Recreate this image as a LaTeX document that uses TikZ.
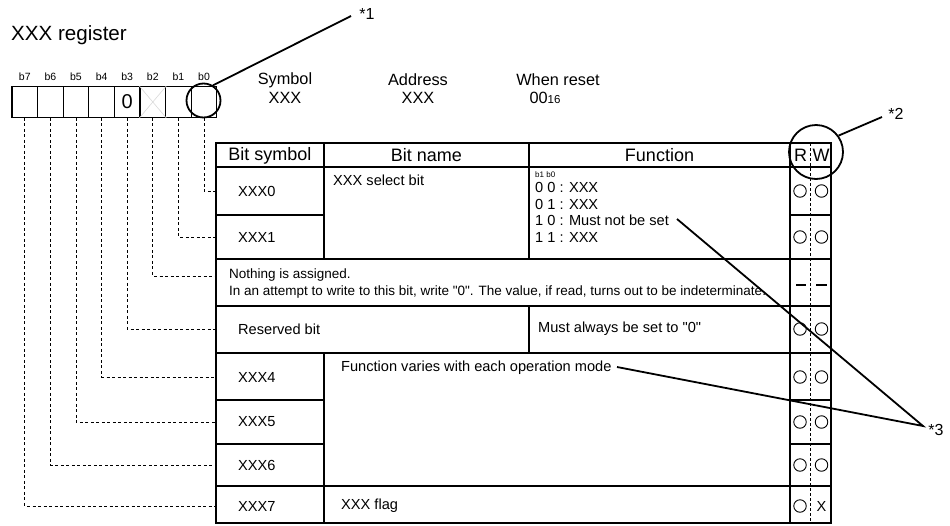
\documentclass[tikz,border=0pt]{standalone}
\usepackage{fontspec}
\setmainfont{Liberation Sans}
\newfontfamily\lsans{Liberation Sans}
\begin{document}
\begin{tikzpicture}[x=1pt,y=-1pt,
  tbl/.style={line width=1.2pt},
  rwdiv/.style={line width=0.9pt, dash pattern=on 3pt off 2pt},
  lead/.style={line width=1pt, dash pattern=on 3pt off 2.5pt},
  ann/.style={line width=1.8pt},
  regcell/.style={draw, line width=1.2pt, minimum width=25.6pt, minimum height=30.6pt, inner sep=0pt},
  blab/.style={font=\lsans\fontsize{10.5}{11}\selectfont, inner sep=0pt},
  body/.style={font=\lsans\fontsize{14.6}{16}\selectfont, inner sep=0pt, anchor=west},
  small/.style={font=\lsans\fontsize{13.5}{15}\selectfont, inner sep=0pt, anchor=west},
  head/.style={font=\lsans\fontsize{18}{20}\selectfont, inner sep=0pt},
  info/.style={font=\lsans\fontsize{16.3}{18}\selectfont, inner sep=0pt},
  rwmark/.style={circle, draw, line width=0.9pt, minimum size=12.5pt, inner sep=0pt},
  bigc/.style={circle, draw, line width=1.8pt, inner sep=0pt},
  star/.style={font=\lsans\fontsize{16}{18}\selectfont, inner sep=0pt}
]
\useasboundingbox (0,0) rectangle (950,525);

% title
\node[font=\lsans\fontsize{20.6}{22}\selectfont, inner sep=0pt, anchor=west] (title) at (11,35) {XXX register};

% register cells
\foreach \i/\x in {7/24.8,6/50.4,5/76.0,4/101.6,3/127.2,2/152.8,1/178.4,0/204.0}{
  \node[regcell] (c\i) at (\x,102) {};
  \node[blab] (bl\i) at (\x,77) {b\i};
}
\node[font=\lsans\fontsize{20}{21}\selectfont, inner sep=0pt] (zero) at (c3) {0};
\draw[black!15, line width=0.6pt] (c2.north west) -- (c2.south east) (c2.south west) -- (c2.north east);

% symbol / address / reset
\node[info] (sym) at (285,80) {Symbol};
\node[info] (symv) at (285,98) {XXX};
\node[info] (adr) at (418,80) {Address};
\node[info] (adrv) at (418,98) {XXX};
\node[info] (rst) at (558,80) {When reset};
\node[info] (rstv) at (545,98) {00\fontsize{11.5}{12}\selectfont 16};

% table grid
\draw[tbl] (216,143) rectangle (831,523);
\draw[tbl] (216,167) -- (831,167)
           (216,259) -- (831,259)
           (216,306) -- (831,306)
           (216,353) -- (831,353)
           (216,486) -- (831,486);
\draw[tbl] (216,215) -- (324,215) (790,215) -- (831,215)
           (216,400) -- (324,400) (790,400) -- (831,400)
           (216,444) -- (324,444) (790,444) -- (831,444);
\draw[tbl] (324,143) -- (324,259) (324,353) -- (324,523)
           (529,143) -- (529,259) (529,306) -- (529,353)
           (790,143) -- (790,523);
\draw[rwdiv] (810.5,143) -- (810.5,523);

% header
\node[head] (hbs) at (270,155.5) {Bit symbol};
\node[head] (hbn) at (426.5,155.5) {Bit name};
\node[head] (hfn) at (659.5,155.5) {Function};
\node[head] (hr) at (800.5,155.5) {R};
\node[head] (hw) at (821,155.5) {W};

% row texts
\node[body] (x0) at (238,191) {XXX0};
\node[body] (x1) at (238,237) {XXX1};
\node[body] (sel) at (333,180) {XXX select bit};
\node[body, font=\lsans\fontsize{8}{9}\selectfont] (fb) at (535,174.5) {b1 b0};
\node[body] (f0) at (535,187.5) {0 0 : XXX};
\node[body] (f1) at (535,204) {0 1 : XXX};
\node[body] (f2) at (535,220.5) {1 0 : Must not be set};
\node[body] (f3) at (535,237) {1 1 : XXX};
\node[small] (na1) at (229,275) {Nothing is assigned.};
\node[small] (na2) at (229,292) {In an attempt to write to this bit, write "0". The value, if read, turns out to be indeterminate.};
\node[body] (rsv) at (238,329) {Reserved bit};
\node[body] (rsf) at (538,329) {Must always be set to "0"};
\node[body] (x4) at (238,377) {XXX4};
\node[body] (x5) at (238,422) {XXX5};
\node[body] (x6) at (238,465) {XXX6};
\node[body] (x7) at (238,506) {XXX7};
\node[body] (fv) at (341,368) {Function varies with each operation mode};
\node[body] (fl) at (341,506) {XXX flag};

% R/W marks
\foreach \n/\y in {a/191,b/237,c/329,d/377,e/422,f/465}{
  \node[rwmark] (r\n) at (800,\y) {};
  \node[rwmark] (w\n) at (821.5,\y) {};
}
\node[rwmark] (rg) at (800,506) {};
\node[body, anchor=center] (wg) at (821.5,506) {X};
\draw[line width=1.3pt] (796,285) -- (806,285) (816,285) -- (827,285);

% leader lines
\foreach \i/\y in {0/191,1/237,2/276,3/329,4/377,5/422,6/465,7/506}{
  \coordinate (e\i) at (216,\y);
  \draw[lead] (c\i.south) |- (e\i);
}

% annotations
\node[bigc, minimum size=34pt] (k1) at (203.5,100.5) {};
\node[star] (s1) at (367,14) {*1};
\coordinate (t1) at (351,16);
\draw[ann] (k1.58) -- (t1);

\node[bigc, minimum size=54pt] (k2) at (816,152) {};
\node[star] (s2) at (896,114) {*2};
\coordinate (t2) at (882,117);
\draw[ann] (k2.36) -- (t2);

\node[star] (s3) at (936,430) {*3};
\coordinate (t3) at (923,426);
\coordinate (m1) at (677,219);
\coordinate (m2) at (617,367);
\draw[ann] (m1) -- (t3) -- (m2);
\end{tikzpicture}
\end{document}
